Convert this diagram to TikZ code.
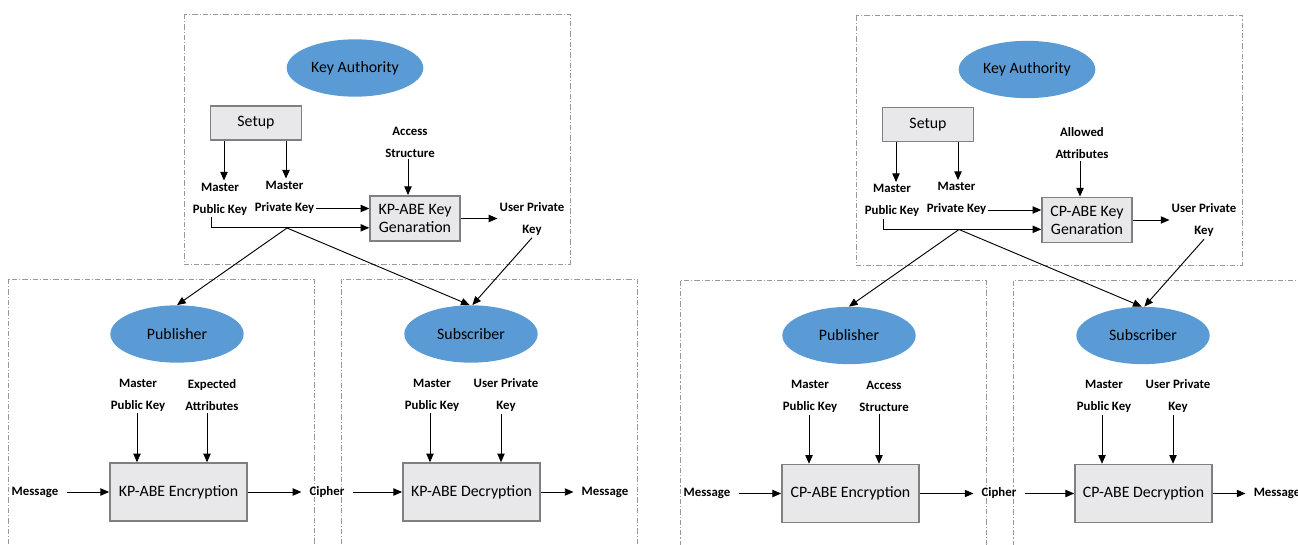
\documentclass[tikz,border=0pt]{standalone}
\usepackage{fontspec}
\setmainfont{Carlito}
\usepackage{xcolor}
\usetikzlibrary{arrows.meta,positioning,shapes.geometric}
\definecolor{partyblue}{HTML}{5B9BD5}
\definecolor{boxgray}{HTML}{E8E8EA}
\definecolor{edgegray}{HTML}{808080}

\begin{document}
\begin{tikzpicture}[x=0.75pt,y=-0.75pt,>={Triangle[length=6.5pt,width=5.5pt]},
party/.style={ellipse,fill=partyblue,minimum width=100pt,minimum height=43pt,font=\fontsize{11.9}{13}\selectfont},
stepbox/.style={draw=edgegray,line width=1.1pt,fill=boxgray,align=center,font=\fontsize{11.9}{13.5}\selectfont},
lbl/.style={align=center,inner sep=1.5pt,font=\fontsize{9.6}{16.5}\selectfont\bfseries},
endlbl/.style={lbl,inner xsep=6pt},
frame/.style={draw=gray!80,line width=0.5pt,dash pattern=on 4pt off 1.5pt on 0.8pt off 1.5pt},
flow/.style={->,line width=0.7pt}]
\useasboundingbox (0,0) rectangle (1298,545);

% KP-ABE
\begin{scope}
\draw[frame] (184,14) rectangle (570,264);
\draw[frame] (8,279) rectangle (314,560);
\draw[frame] (341,279) rectangle (637,560);
\node[party] (kpka) at (355,68) {Key Authority};
\node[stepbox,minimum width=68pt,minimum height=25.5pt] (kpsetup) at (256,123) {Setup};
\node[lbl] (kpmpub) at (220,199) {Master\\Public Key};
\node[lbl] (kpmpriv) at (284.5,197) {Master\\Private Key};
\node[lbl] (kpacc) at (410,142) {Access\\Structure};
\node[stepbox,minimum width=67.5pt,minimum height=34pt] (kpgen) at (415,218.5) {KP-ABE Key\\Genaration};
\node[lbl] (kpuk) at (532,219) {User Private\\Key};
\coordinate (kpgin) at ([yshift=7.5pt]kpgen.west);
\coordinate (kpgpk) at ([yshift=-7pt]kpgen.west);
\coordinate (kpj) at (287,228);
\draw[flow] (kpsetup.south -| 224,0) -- (kpmpub.north -| 224,0);
\draw[flow] (kpsetup.south -| 286,0) -- (kpmpriv.north -| 286,0);
\draw[flow] (kpmpriv.east |- kpgin) -- (kpgin);
\draw[flow] (kpmpub.south -| 211,0) |- (kpgpk);
\draw[flow] (kpacc.south -| 408,0) -- (kpgen.north -| 408,0);
\draw[flow] (kpgen.east) -- (kpuk.west |- kpgen.east);

\node[party] (kppub) at (177,334) {Publisher};
\node[party] (kpsub) at (471,334) {Subscriber};
\draw[flow] (kpj) -- (kppub.north);
\draw[flow] (kpj) -- ([xshift=-1pt]kpsub.north);
\draw[flow] (kpuk.south) -- ([xshift=1pt]kpsub.north);

\node[lbl] (kpem) at (138,395) {Master\\Public Key};
\node[lbl] (kpexp) at (212,395) {Expected\\Attributes};
\node[stepbox,minimum width=103pt,minimum height=43.5pt] (kpenc) at (178.5,492) {KP-ABE Encryption};
\node[endlbl] (kpmsg) at (35,492) {Message};
\node[endlbl] (kpcip) at (327,492) {Cipher};
\node[lbl] (kpdm) at (432,395) {Master\\Public Key};
\node[lbl] (kpdk) at (506,395) {User Private\\Key};
\node[stepbox,minimum width=103pt,minimum height=43.5pt] (kpdec) at (471.5,492) {KP-ABE Decryption};
\node[endlbl] (kpout) at (605,492) {Message};
\draw[flow] (kpem.south -| 137,0) -- (kpenc.north -| 137,0);
\draw[flow] (kpexp.south -| 207,0) -- (kpenc.north -| 207,0);
\draw[flow] (kpdm.south -| 430,0) -- (kpdec.north -| 430,0);
\draw[flow] (kpdk.south -| 501,0) -- (kpdec.north -| 501,0);
\draw[flow] (kpmsg.east) -- (kpenc.west);
\draw[flow] (kpenc.east) -- (kpcip.west);
\draw[flow] (kpcip.east) -- (kpdec.west);
\draw[flow] (kpdec.east) -- (kpout.west);
\end{scope}

% CP-ABE
\begin{scope}[shift={(672,1.5)}]
\draw[frame] (184,14) rectangle (570,264);
\draw[frame] (8,279) rectangle (314,560);
\draw[frame] (341,279) rectangle (637,560);
\node[party] (cpka) at (355,68) {Key Authority};
\node[stepbox,minimum width=68pt,minimum height=25.5pt] (cpsetup) at (256,123) {Setup};
\node[lbl] (cpmpub) at (220,199) {Master\\Public Key};
\node[lbl] (cpmpriv) at (284.5,197) {Master\\Private Key};
\node[lbl] (cpall) at (410,142) {Allowed\\Attributes};
\node[stepbox,minimum width=67.5pt,minimum height=34pt] (cpgen) at (415,218.5) {CP-ABE Key\\Genaration};
\node[lbl] (cpuk) at (532,219) {User Private\\Key};
\coordinate (cpgin) at ([yshift=7.5pt]cpgen.west);
\coordinate (cpgpk) at ([yshift=-7pt]cpgen.west);
\coordinate (cpj) at (287,228);
\draw[flow] (cpsetup.south -| 224,0) -- (cpmpub.north -| 224,0);
\draw[flow] (cpsetup.south -| 286,0) -- (cpmpriv.north -| 286,0);
\draw[flow] (cpmpriv.east |- cpgin) -- (cpgin);
\draw[flow] (cpmpub.south -| 211,0) |- (cpgpk);
\draw[flow] (cpall.south -| 408,0) -- (cpgen.north -| 408,0);
\draw[flow] (cpgen.east) -- (cpuk.west |- cpgen.east);

\node[party] (cppub) at (177,334) {Publisher};
\node[party] (cpsub) at (471,334) {Subscriber};
\draw[flow] (cpj) -- (cppub.north);
\draw[flow] (cpj) -- ([xshift=-1pt]cpsub.north);
\draw[flow] (cpuk.south) -- ([xshift=1pt]cpsub.north);

\node[lbl] (cpem) at (138,395) {Master\\Public Key};
\node[lbl] (cpacc) at (212,395) {Access\\Structure};
\node[stepbox,minimum width=103pt,minimum height=43.5pt] (cpenc) at (178.5,492) {CP-ABE Encryption};
\node[endlbl] (cpmsg) at (35,492) {Message};
\node[endlbl] (cpcip) at (327,492) {Cipher};
\node[lbl] (cpdm) at (432,395) {Master\\Public Key};
\node[lbl] (cpdk) at (506,395) {User Private\\Key};
\node[stepbox,minimum width=103pt,minimum height=43.5pt] (cpdec) at (471.5,492) {CP-ABE Decryption};
\node[endlbl] (cpout) at (605,492) {Message};
\draw[flow] (cpem.south -| 137,0) -- (cpenc.north -| 137,0);
\draw[flow] (cpacc.south -| 207,0) -- (cpenc.north -| 207,0);
\draw[flow] (cpdm.south -| 430,0) -- (cpdec.north -| 430,0);
\draw[flow] (cpdk.south -| 501,0) -- (cpdec.north -| 501,0);
\draw[flow] (cpmsg.east) -- (cpenc.west);
\draw[flow] (cpenc.east) -- (cpcip.west);
\draw[flow] (cpcip.east) -- (cpdec.west);
\draw[flow] (cpdec.east) -- (cpout.west);
\end{scope}
\end{tikzpicture}
\end{document}
